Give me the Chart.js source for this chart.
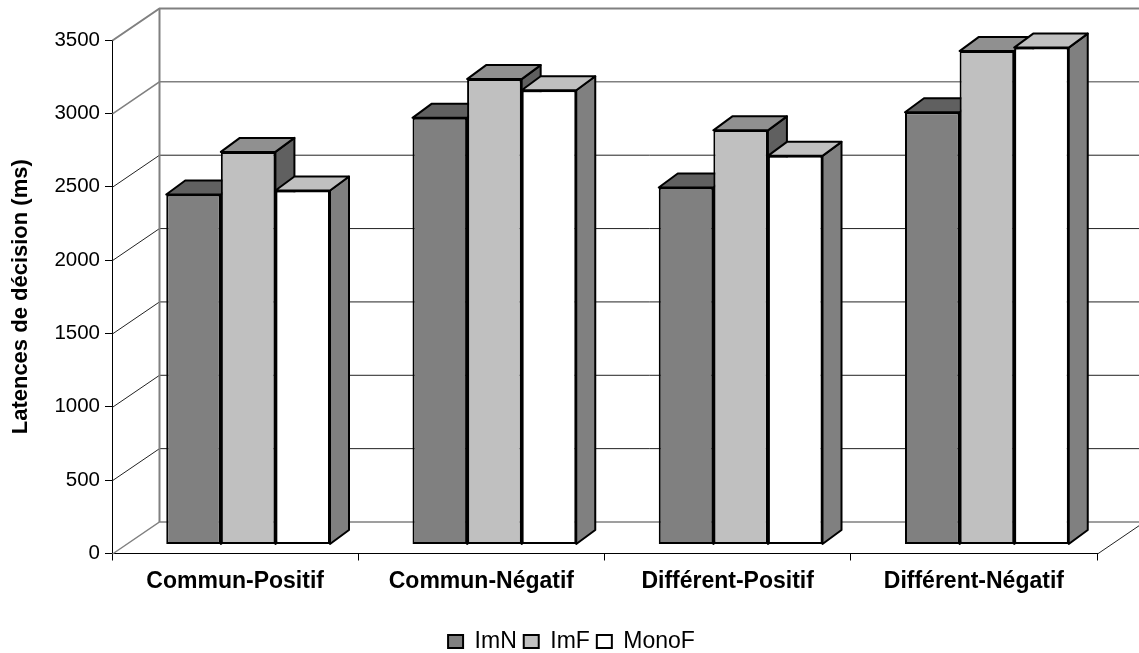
<!DOCTYPE html>
<html lang="fr">
<head>
<meta charset="utf-8">
<title>Latences de décision</title>
<script src="https://cdn.jsdelivr.net/npm/chart.js@4"></script>
<style>
    html, body { margin: 0; padding: 0; background: #fff; overflow: hidden; }
    canvas { display: block; }
</style>
</head>
<body>
<canvas id="chart" width="1139" height="653"></canvas>
<script>
const categories = ['Commun-Positif', 'Commun-Négatif', 'Différent-Positif', 'Différent-Négatif'];
const imN = [2386, 2908, 2433, 2946];
const imF = [2676, 3172, 2823, 3363];
const monoF = [2413, 3096, 2649, 3387];

const FONT = '"Liberation Sans", Arial, sans-serif';

// 3D look: depth of the walls, of the bars, and where the bars sit in the box
const WALL_DX = 47, WALL_DY = -32;
const BAR_DX = 19, BAR_DY = -14;
const SHIFT_X = 13, SHIFT_Y = -9;

const makeSeries = (label, data, front, top, side) => ({
    label, data, top, side,
    backgroundColor: front,
    borderColor: '#000',
    borderWidth: 2,
    borderSkipped: false,
    clip: false
});

function face(ctx, pts, fill) {
    ctx.beginPath();
    pts.forEach(([x, y], i) => (i ? ctx.lineTo(x, y) : ctx.moveTo(x, y)));
    ctx.closePath();
    ctx.fillStyle = fill;
    ctx.fill();
    ctx.stroke();
}

function wallLine(ctx, pts, color, width) {
    ctx.beginPath();
    pts.forEach(([x, y], i) => (i ? ctx.lineTo(x, y) : ctx.moveTo(x, y)));
    ctx.strokeStyle = color;
    ctx.lineWidth = width;
    ctx.stroke();
}

const box3d = {
    id: 'box3d',
    // legend is centred on the whole canvas, not on the space left of the right padding
    afterLayout(chart) {
        chart.legend.right += 46;
    },
    // back wall and floor, behind everything
    beforeDatasetsDraw(chart) {
        const { ctx, scales: { x, y }, width } = chart;
        const left = x.left + 0.5, right = x.right + 0.5;
        ctx.save();
        y.ticks.forEach(t => {
            const py = y.getPixelForValue(t.value) + 0.5;
            const strong = t.value === 0 || t.value >= 3000;
            const color = strong ? '#808080' : '#222';
            const w = strong ? (t.value === 3500 ? 2 : 1.5) : 1;
            wallLine(ctx, [[left, py], [left + WALL_DX, py + WALL_DY], [width, py + WALL_DY]], color, w);
        });
        const y0 = y.getPixelForValue(0) + 0.5;
        const y1 = y.getPixelForValue(3500) + 0.5;
        wallLine(ctx, [[left + WALL_DX, y1 + WALL_DY], [left + WALL_DX, y0 + WALL_DY]], '#808080', 2);
        wallLine(ctx, [[right, y0], [right + WALL_DX, y0 + WALL_DY]], '#222', 1);
        ctx.restore();
    },
    // the library paints the last dataset first, the 3D overlap needs the opposite
    beforeDatasetDraw() {
        return false;
    },
    afterDatasetsDraw(chart) {
        const { ctx } = chart;
        chart.getSortedVisibleDatasetMetas().forEach(meta => {
            const ds = chart.data.datasets[meta.index];
            ctx.save();
            ctx.translate(SHIFT_X, SHIFT_Y);
            ctx.strokeStyle = '#000';
            ctx.lineWidth = 2;
            ctx.lineJoin = 'round';
            meta.data.forEach(bar => {
                const l = bar.x - bar.width / 2, r = bar.x + bar.width / 2;
                const t = bar.y, b = bar.base;
                face(ctx, [[r, t], [r + BAR_DX, t + BAR_DY], [r + BAR_DX, b + BAR_DY], [r, b]], ds.side);
                face(ctx, [[l, t], [l + BAR_DX, t + BAR_DY], [r + BAR_DX, t + BAR_DY], [r, t]], ds.top);
            });
            meta.controller.draw();
            ctx.restore();
        });
    }
};

new Chart(document.getElementById('chart'), {
    type: 'bar',
    data: {
        labels: categories,
        datasets: [
            makeSeries('ImN', imN, '#808080', '#606060', '#404040'),
            makeSeries('ImF', imF, '#c0c0c0', '#909090', '#606060'),
            makeSeries('MonoF', monoF, '#ffffff', '#c0c0c0', '#808080')
        ]
    },
    options: {
        responsive: false,
        animation: false,
        events: [],
        layout: { padding: { top: 40, right: 42, left: 0, bottom: -10 } },
        datasets: { bar: { categoryPercentage: 0.665, barPercentage: 1 } },
        plugins: {
            tooltip: { enabled: false },
            legend: {
                position: 'bottom',
                labels: {
                    color: '#000',
                    font: { family: FONT, size: 23 },
                    boxWidth: 15,
                    boxHeight: 13,
                    padding: 7
                }
            }
        },
        scales: {
            x: {
                grid: { drawOnChartArea: false, offset: true, color: '#000', tickLength: 7, tickColor: '#000' },
                border: { color: '#000' },
                ticks: { color: '#000', font: { family: FONT, size: 23, weight: 'bold' }, padding: 7, maxRotation: 0 },
                afterFit(scale) { scale.height = 69.5; }
            },
            y: {
                min: 0,
                max: 3500,
                grid: { drawOnChartArea: false, color: '#000', tickLength: 7, tickColor: '#000' },
                border: { color: '#000' },
                ticks: {
                    stepSize: 500,
                    color: '#000',
                    font: { family: FONT, size: 20.5 },
                    padding: 5,
                    callback: value => String(value)
                },
                title: {
                    display: true,
                    text: 'Latences de décision (ms)',
                    color: '#000',
                    font: { family: FONT, size: 22, weight: 'bold' },
                    padding: { top: 8, bottom: 0 }
                },
                afterFit(scale) { scale.width = 112; }
            }
        }
    },
    plugins: [box3d]
});
</script>
</body>
</html>
